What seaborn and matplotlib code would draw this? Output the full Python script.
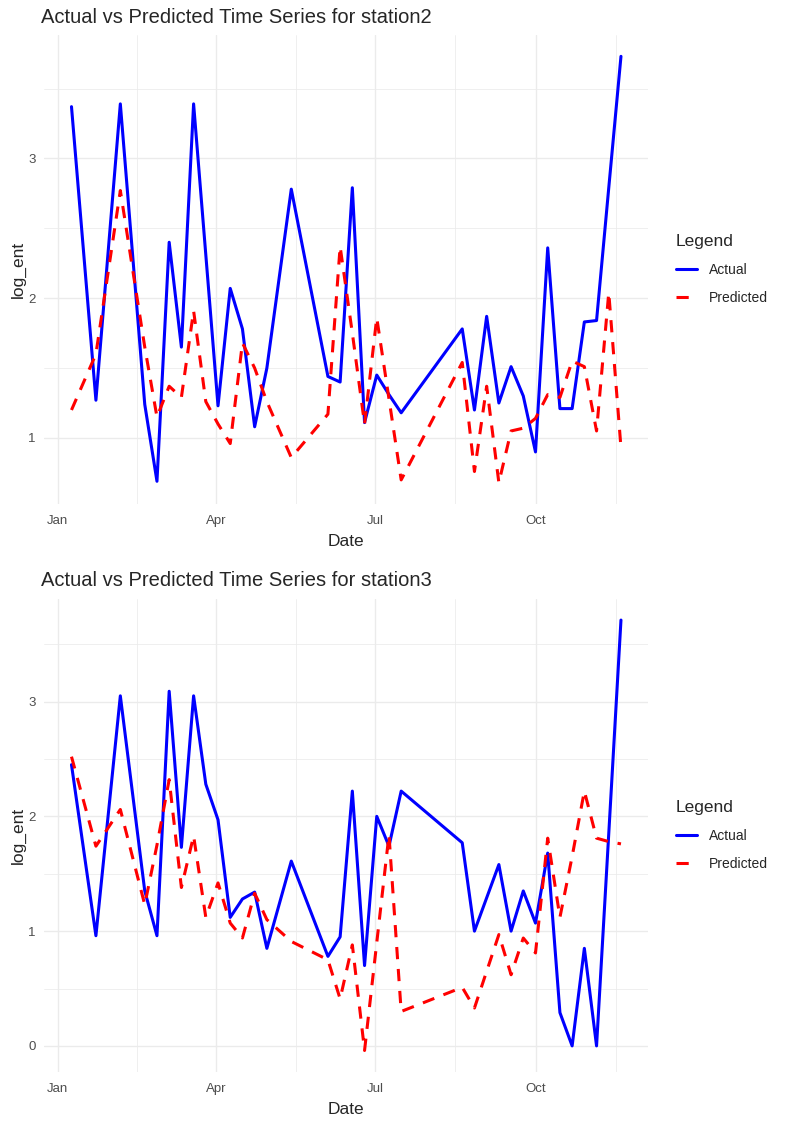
import pandas as pd
import numpy as np
import seaborn as sns
import matplotlib.pyplot as plt
import matplotlib.dates as mdates
from matplotlib.ticker import MultipleLocator, FixedLocator

sns.set_style("white")
plt.rcParams['font.family'] = ['Liberation Sans', 'DejaVu Sans']

dates = ["2024-01-09", "2024-01-23", "2024-02-06", "2024-02-20", "2024-02-27",
         "2024-03-05", "2024-03-12", "2024-03-19", "2024-03-26", "2024-04-02",
         "2024-04-09", "2024-04-16", "2024-04-23", "2024-04-30", "2024-05-14",
         "2024-06-04", "2024-06-11", "2024-06-18", "2024-06-25", "2024-07-02",
         "2024-07-09", "2024-07-16", "2024-08-20", "2024-08-27", "2024-09-03",
         "2024-09-10", "2024-09-17", "2024-09-24", "2024-10-01", "2024-10-08",
         "2024-10-15", "2024-10-22", "2024-10-29", "2024-11-05", "2024-11-12",
         "2024-11-19"]

station2_actual = [3.37, 1.27, 3.39, 1.24, 0.69, 2.40, 1.65, 3.39, 2.31, 1.23,
                   2.07, 1.78, 1.08, 1.50, 2.78, 1.44, 1.40, 2.79, 1.11, 1.45,
                   1.31, 1.18, 1.78, 1.20, 1.87, 1.25, 1.51, 1.30, 0.90, 2.36,
                   1.21, 1.21, 1.83, 1.84, 2.79, 3.73]
station2_pred = [1.20, 1.60, 2.77, 1.65, 1.15, 1.37, 1.29, 1.91, 1.26, 1.10,
                 0.96, 1.68, 1.50, 1.26, 0.86, 1.17, 2.37, 1.75, 1.10, 1.86,
                 1.28, 0.70, 1.54, 0.76, 1.37, 0.68, 1.05, 1.07, 1.14, 1.31,
                 1.29, 1.55, 1.51, 1.05, 2.04, 0.93]

station3_actual = [2.45, 0.96, 3.05, 1.35, 0.96, 3.09, 1.73, 3.05, 2.28, 1.97,
                   1.12, 1.28, 1.34, 0.85, 1.61, 0.78, 0.95, 2.22, 0.70, 2.00,
                   1.74, 2.22, 1.77, 1.00, 1.29, 1.58, 1.00, 1.35, 1.07, 1.68,
                   0.29, 0.00, 0.85, 0.00, 1.85, 3.71]
station3_pred = [2.52, 1.74, 2.06, 1.23, 1.75, 2.32, 1.38, 1.83, 1.12, 1.42,
                 1.07, 0.94, 1.33, 1.10, 0.91, 0.75, 0.41, 0.88, -0.04, 0.90,
                 1.84, 0.30, 0.51, 0.33, 0.65, 0.97, 0.62, 0.94, 0.81, 1.81,
                 1.12, 1.65, 2.22, 1.81, 1.78, 1.76]

stations = {"station2": (station2_actual, station2_pred),
            "station3": (station3_actual, station3_pred)}

grid_col = "#EBEBEB"
tick_col = "#4D4D4D"

fig = plt.figure(figsize=(7.86, 11.23), dpi=100)
axes = [fig.add_axes([0.056, 0.5512, 0.769, 0.4176]),
        fig.add_axes([0.056, 0.0454, 0.769, 0.4216])]


def ts_plot(ax, name, actual, pred):
    dat = pd.DataFrame({
        "Date": pd.to_datetime(dates * 2),
        "log_ent": actual + pred,
        "Legend": ["Actual"] * len(dates) + ["Predicted"] * len(dates),
    })
    sns.lineplot(data=dat, x="Date", y="log_ent", hue="Legend", style="Legend",
                 palette={"Actual": "#0000FF", "Predicted": "#FF0000"},
                 dashes={"Actual": "", "Predicted": (4, 3.2)},
                 linewidth=2.2, ax=ax)

    ax.xaxis.set_major_locator(mdates.MonthLocator(bymonth=[1, 4, 7, 10]))
    ax.xaxis.set_major_formatter(mdates.DateFormatter("%b"))
    major = mdates.date2num(pd.to_datetime(["2023-10-01", "2024-01-01", "2024-04-01",
                                            "2024-07-01", "2024-10-01", "2025-01-01"]))
    ax.xaxis.set_minor_locator(FixedLocator((major[:-1] + major[1:]) / 2))
    ax.yaxis.set_major_locator(MultipleLocator(1))
    ax.yaxis.set_minor_locator(MultipleLocator(0.5))

    ax.grid(True, which="major", color=grid_col, linewidth=1.0)
    ax.grid(True, which="minor", color=grid_col, linewidth=0.55)
    ax.set_axisbelow(True)
    for s in ax.spines.values():
        s.set_visible(False)
    ax.tick_params(which="both", length=0, labelsize=9.5, labelcolor=tick_col)
    ax.tick_params(axis="y", pad=6)
    ax.tick_params(axis="x", pad=8)

    ax.set_xlabel("Date", fontsize=12.5, labelpad=5)
    ax.set_ylabel("log_ent", fontsize=12.5, labelpad=2)
    ax.set_title(f"Actual vs Predicted Time Series for {name}", loc="left",
                 fontsize=14.5, x=-0.005, pad=9)

    sns.move_legend(ax, "center left", bbox_to_anchor=(1.025, 0.5), title="Legend",
                    frameon=False, fontsize=10, title_fontsize=12.5,
                    handlelength=1.5, handletextpad=0.85, labelspacing=1.0,
                    alignment="left")


for ax, (name, (actual, pred)) in zip(axes, stations.items()):
    ts_plot(ax, name, actual, pred)

plt.savefig("out.png", dpi=100)
plt.close()
